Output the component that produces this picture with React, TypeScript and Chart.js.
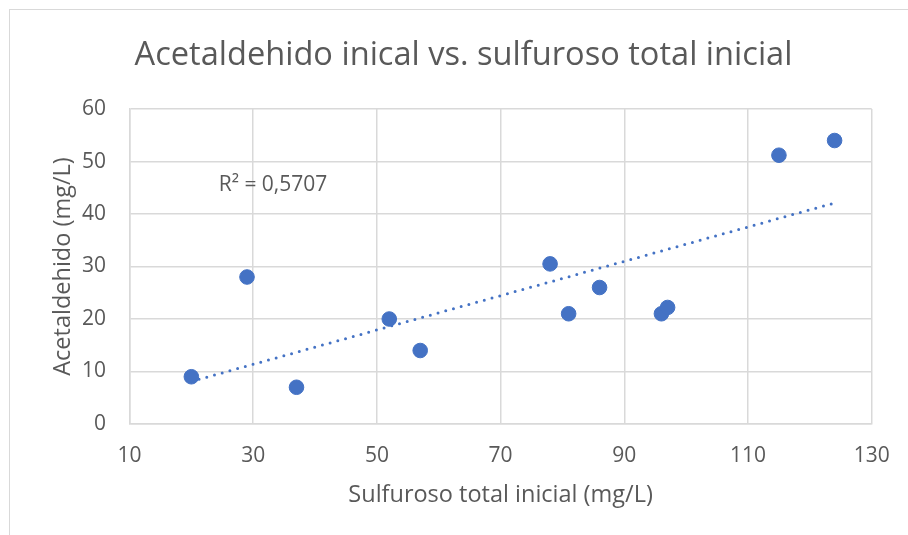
import React, { useEffect, useRef } from "react";
import { Chart, registerables } from "chart.js";

Chart.register(...registerables);

const titleText = "Acetaldehido inical vs. sulfuroso total inicial";
const xAxisTitle = "Sulfuroso total inicial (mg/L)";
const yAxisTitle = "Acetaldehido (mg/L)";
const r2Label = "R² = 0,5707";
const r2LabelPos = [33.2, 45.5];

const sulfuroso = [20, 29, 37, 52, 57, 78, 81, 86, 96, 97, 115, 124];
const acetaldehido = [9, 28, 7, 20, 14, 30.5, 21, 26, 21, 22.2, 51.2, 54];

const xMin = 10;
const xMax = 130;
const xStep = 20;
const yMin = 0;
const yMax = 60;
const yStep = 10;

const FONT = "'Open Sans', 'Noto Sans', sans-serif";
const TEXT = "#595959";
const GRID = "#d9d9d9";
const BLUE = "#4472C4";

function regression(xs: number[], ys: number[]) {
  const n = xs.length;
  const mx = xs.reduce((a, b) => a + b, 0) / n;
  const my = ys.reduce((a, b) => a + b, 0) / n;
  let sxy = 0;
  let sxx = 0;
  for (let i = 0; i < n; i++) {
    sxy += (xs[i] - mx) * (ys[i] - my);
    sxx += (xs[i] - mx) * (xs[i] - mx);
  }
  const slope = sxy / sxx;
  const intercept = my - slope * mx;
  return { slope, intercept };
}

export default function App() {
  const ref = useRef<HTMLCanvasElement | null>(null);

  useEffect(() => {
    if (!ref.current) return;
    const { slope, intercept } = regression(sulfuroso, acetaldehido);
    const lo = Math.min(...sulfuroso);
    const hi = Math.max(...sulfuroso);
    const trend = [
      { x: lo, y: intercept + slope * lo },
      { x: hi, y: intercept + slope * hi },
    ];
    const points = sulfuroso.map((x, i) => ({ x, y: acetaldehido[i] }));

    const labelPlugin = {
      id: "r2label",
      afterDatasetsDraw(chart: any) {
        const { ctx, scales } = chart;
        ctx.save();
        ctx.fillStyle = TEXT;
        ctx.font = `21px ${FONT}`;
        ctx.textAlign = "center";
        ctx.textBaseline = "middle";
        ctx.fillText(
          r2Label,
          scales.x.getPixelForValue(r2LabelPos[0]),
          scales.y.getPixelForValue(r2LabelPos[1])
        );
        ctx.restore();
      },
    };

    const chart = new Chart(ref.current, {
      type: "scatter",
      data: {
        datasets: [
          {
            label: "Acetaldehido",
            data: points,
            backgroundColor: BLUE,
            borderColor: BLUE,
            pointRadius: 7.3,
            pointHoverRadius: 7.3,
            order: 1,
          },
          {
            label: "Tendencia",
            data: trend,
            showLine: true,
            pointRadius: 0,
            borderColor: BLUE,
            borderWidth: 3,
            borderDash: [0, 8],
            borderCapStyle: "round",
            fill: false,
            order: 2,
          } as any,
        ],
      },
      options: {
        responsive: false,
        animation: false,
        devicePixelRatio: 1,
        layout: { padding: 0 },
        plugins: {
          legend: { display: false },
          tooltip: { enabled: false },
          title: {
            display: true,
            text: titleText,
            color: TEXT,
            font: { family: FONT, size: 32.6, weight: "normal", lineHeight: 1.2 },
            padding: { top: 26.5, bottom: 33.4 },
          },
        },
        scales: {
          x: {
            type: "linear",
            min: xMin,
            max: xMax,
            border: { display: true, color: GRID, width: 1.5 },
            grid: { color: GRID, lineWidth: 1.5, drawTicks: false },
            ticks: {
              stepSize: xStep,
              color: TEXT,
              padding: 19.5,
              font: { family: FONT, size: 21 },
            },
            title: {
              display: true,
              text: xAxisTitle,
              color: TEXT,
              font: { family: FONT, size: 23.5, lineHeight: 1.2 },
              padding: { top: 0, bottom: 25.4 },
            },
            afterFit(scale: any) {
              scale.height = 111;
            },
          },
          y: {
            type: "linear",
            min: yMin,
            max: yMax,
            border: { display: true, color: GRID, width: 1.5 },
            grid: { color: GRID, lineWidth: 1.5, drawTicks: false },
            ticks: {
              stepSize: yStep,
              color: TEXT,
              padding: 23.5,
              font: { family: FONT, size: 21 },
            },
            title: {
              display: true,
              text: yAxisTitle,
              color: TEXT,
              font: { family: FONT, size: 23.5, lineHeight: 1.2 },
              padding: { top: 38.9, bottom: 0 },
            },
            afterFit(scale: any) {
              scale.width = 119.5;
            },
          },
          yRight: {
            type: "linear",
            position: "right",
            display: true,
            grid: { display: false, drawTicks: false },
            border: { display: false },
            ticks: { display: false },
            afterFit(scale: any) {
              scale.width = 45.3;
            },
          },
        },
      },
      plugins: [labelPlugin],
    });
    return () => chart.destroy();
  }, []);

  return (
    <div
      style={{
        position: "fixed",
        left: 9,
        top: 9,
        width: 899,
        height: 526,
        borderTop: `1px solid ${GRID}`,
        borderLeft: `1px solid ${GRID}`,
        background: "#fff",
      }}
    >
      <canvas ref={ref} width={907} height={525} style={{ display: "block" }} />
    </div>
  );
}
